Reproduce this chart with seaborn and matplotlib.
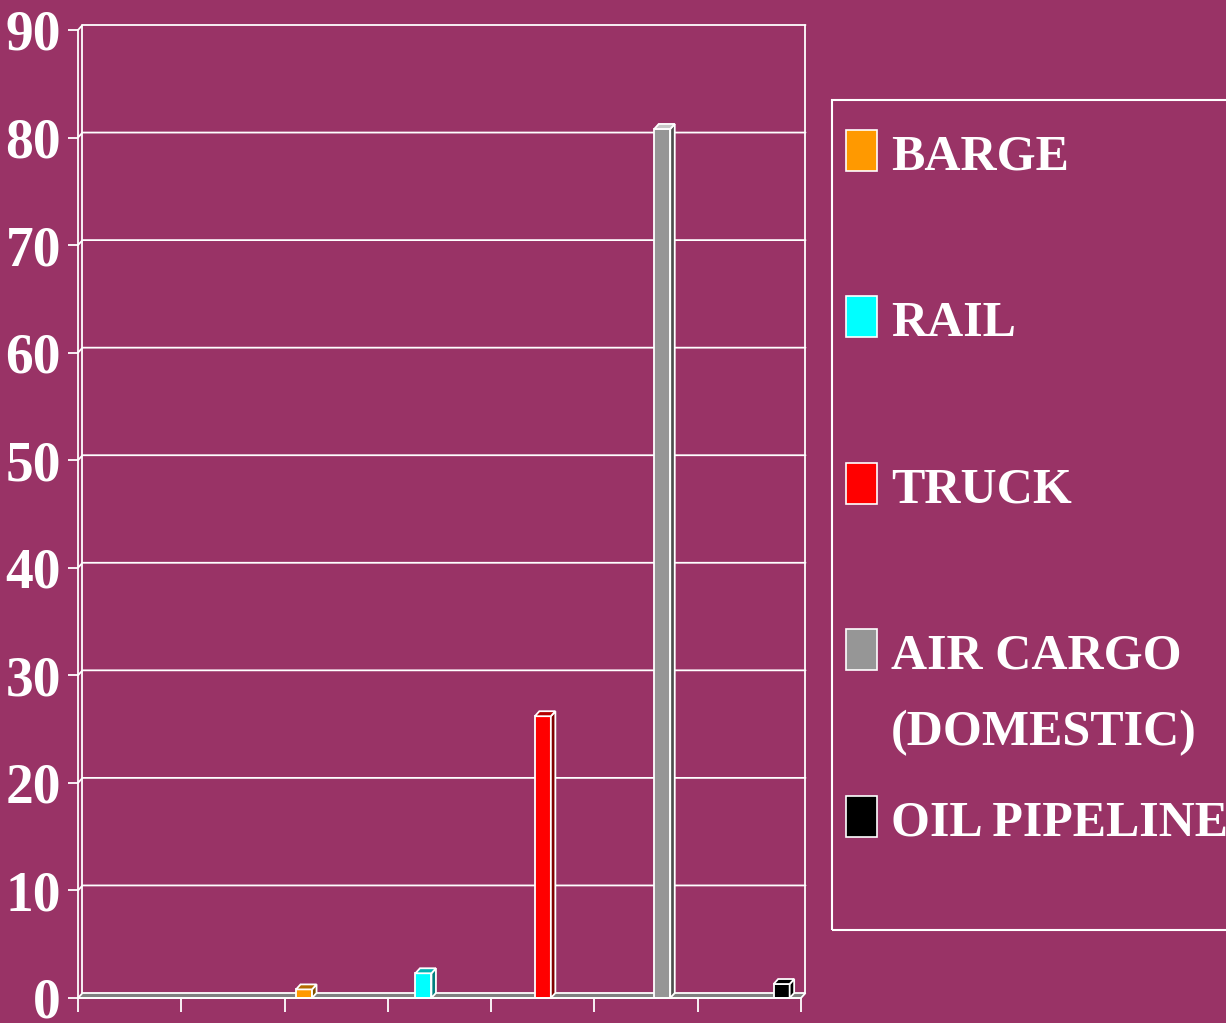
import numpy as np
import pandas as pd
import matplotlib
matplotlib.use("Agg")
import matplotlib.pyplot as plt
from matplotlib.patches import Polygon, Rectangle
import seaborn as sns

BG = "#993366"

# data
modes = ["BARGE", "RAIL", "TRUCK", "AIR CARGO\n(DOMESTIC)", "OIL PIPELINE"]
values = [0.8, 2.3, 26.2, 80.8, 1.3]
yticks = list(range(0, 100, 10))

# colours of the fake 3d bars (front, top, side)
face_colors = ["#FF9900", "#00FFFF", "#FF0000", "#969696", "#000000"]
top_colors = ["#B36B00", "#00B3B3", "#B30000", "#C8C8C8", "#000000"]
side_colors = ["#805000", "#008080", "#800000", "#4D4D4D", "#000000"]

df = pd.DataFrame({"mode": modes, "value": values})

sns.set_style("white")
plt.rcParams["font.family"] = ["Liberation Serif", "DejaVu Serif"]
plt.rcParams["font.weight"] = "bold"

W, H = 1226, 1023
fig = plt.figure(figsize=(W / 100, H / 100), dpi=100, facecolor=BG)
ax = fig.add_axes([78 / W, (H - 998) / H, (801 - 78) / W, (998 - 30) / H])
ax.set_facecolor("none")

sns.barplot(data=df, x="mode", y="value", hue="mode", palette=face_colors,
            saturation=1, width=0.134, edgecolor="white", linewidth=1.3,
            legend=False, ax=ax, zorder=4)

x0, x1 = -1.893, 4.162
ax.set_xlim(x0, x1)
ax.set_ylim(0, 90)

# depth offset in data units
dx = 4.5 * (x1 - x0) / (801 - 78)
dy = 5 * 90 / (998 - 30)

# floor
ax.add_patch(Polygon([[x0, 0], [x1, 0], [x1 + dx, dy], [x0 + dx, dy]],
                     closed=True, facecolor="#808080", edgecolor="white",
                     lw=1.3, zorder=2, clip_on=False))

# back wall grid + walls
for yv in yticks[1:]:
    ax.plot([x0, x0 + dx, x1 + dx], [yv, yv + dy, yv + dy], color="white",
            lw=1.3, clip_on=False, zorder=1)
ax.plot([x0 + dx, x0 + dx], [dy, 90 + dy], color="white", lw=1.3, clip_on=False, zorder=1)
ax.plot([x1 + dx, x1 + dx], [dy, 90 + dy], color="white", lw=1.3, clip_on=False, zorder=1)

# side and top faces of each bar
for bar, tc, sc in zip(ax.patches[:len(values)], top_colors, side_colors):
    bx = bar.get_x()
    bw = bar.get_width()
    bh = bar.get_height()
    side = [[bx + bw, 0], [bx + bw + dx, dy], [bx + bw + dx, bh + dy], [bx + bw, bh]]
    top = [[bx, bh], [bx + bw, bh], [bx + bw + dx, bh + dy], [bx + dx, bh + dy]]
    ax.add_patch(Polygon(side, closed=True, facecolor=sc, edgecolor="white",
                         lw=1.3, zorder=4, clip_on=False))
    ax.add_patch(Polygon(top, closed=True, facecolor=tc, edgecolor="white",
                         lw=1.3, zorder=4, clip_on=False))

ax.set_yticks(yticks)
ax.set_yticklabels([str(t) for t in yticks])
ax.set_xticks(np.linspace(x0, x1, 8))
ax.set_xticklabels([])
ax.tick_params(axis="y", left=True, colors="white", length=7.2, width=1.3,
               direction="out", pad=5, labelsize=40)
ax.tick_params(axis="x", bottom=True, color="white", length=10, width=1.3,
               direction="out")
ax.set_xlabel("")
ax.set_ylabel("")
for s in ["top", "right"]:
    ax.spines[s].set_visible(False)
for s in ["left", "bottom"]:
    ax.spines[s].set_color("white")
    ax.spines[s].set_linewidth(1.3)
    ax.spines[s].set_zorder(5)

# legend box (runs off the right edge)
fig.patches.append(Rectangle((832 / W, (H - 930) / H), 0.4, (930 - 100) / H,
                             transform=fig.transFigure, facecolor="none",
                             edgecolor="white", lw=1.5, clip_on=False))
sq_w, sq_h = 31 / W, 41 / H
for i, (label, col) in enumerate(zip(modes, face_colors)):
    cy = 150.5 + i * 166.4
    fig.patches.append(Rectangle((846 / W, (H - cy) / H - sq_h / 2), sq_w, sq_h,
                                 transform=fig.transFigure, facecolor=col,
                                 edgecolor="white", lw=1.2))
    fig.text(891 / W, (H - cy + 16) / H, label, color="white", fontsize=36,
             fontweight="bold", va="top", ha="left", linespacing=1.85)

fig.savefig("out.png", dpi=100, facecolor=BG)
